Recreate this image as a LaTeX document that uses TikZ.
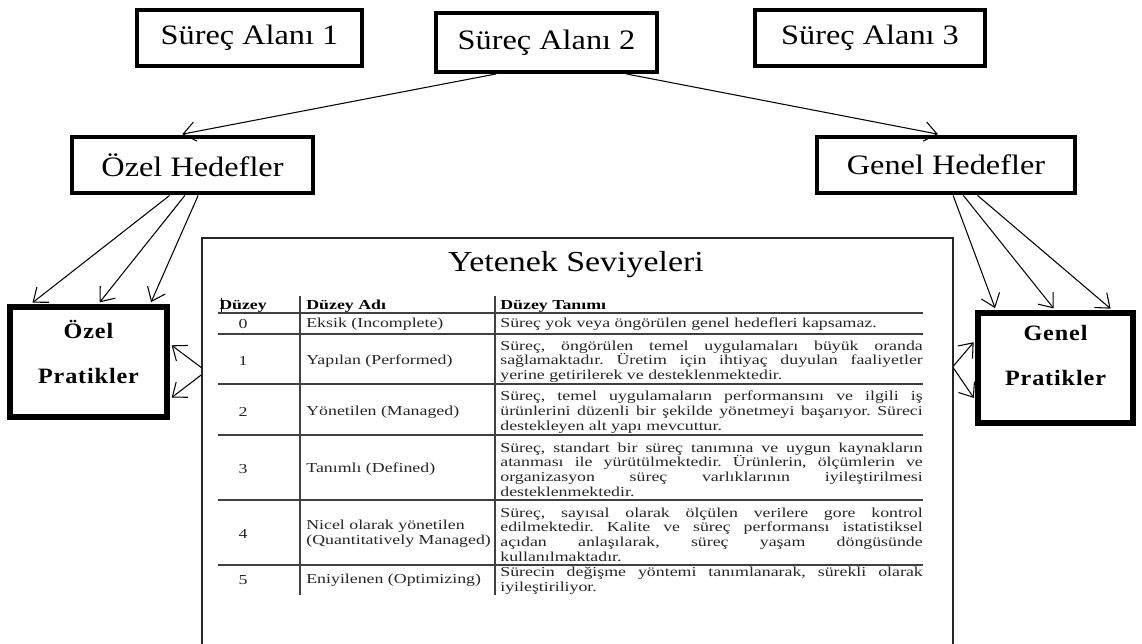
\documentclass[tikz,border=0pt]{standalone}
\usepackage{fontspec}
\setmainfont[FakeStretch=1.15]{Liberation Serif}
\newfontfamily\tabfont[FakeStretch=1.3]{Liberation Serif}
\newfontfamily\titlefont[FakeStretch=1.17]{Liberation Serif}
\newfontfamily\pratfont[FakeStretch=1.1,LetterSpace=4]{Liberation Serif}
\usetikzlibrary{arrows.meta,calc}
\frenchspacing
\begin{document}
\begin{tikzpicture}[x=0.02cm,y=-0.02cm,
  topbox/.style={draw, line width=2.2pt, inner sep=0pt, font=\fontsize{16}{19}\selectfont},
  hedbox/.style={draw, line width=2.8pt, inner sep=0pt, font=\fontsize{16}{19}\selectfont},
  pratbox/.style={draw, line width=3.4pt, inner sep=0pt},
  prattext/.style={align=center, inner sep=0pt, font=\pratfont\bfseries\fontsize{12.5}{26}\selectfont},
  arr/.style={-{Straight Barb[length=7pt,width=11pt]}, line width=0.6pt, shorten >=1.2pt},
  tblbox/.style={draw=black!85, line width=0.9pt, inner sep=0pt},
  tblrule/.style={line width=0.6pt, draw=black!75},
  tx/.style={inner sep=0pt, text=black!85, font=\tabfont\fontsize{7.8}{8.4}\selectfont},
  txb/.style={inner sep=0pt, text=black, font=\tabfont\bfseries\fontsize{7.8}{8.4}\selectfont},
  nm/.style={tx, anchor=west, align=left},
  desc/.style={tx, text width=8.45cm, align=justify, anchor=west}]
\useasboundingbox (0,0) rectangle (1142,643);
\fill[white] (0,0) rectangle (1142,643);
\clip (0,0) rectangle (1142,643);

% top boxes
\node[topbox, minimum width=4.5cm, minimum height=1.12cm] (sa1) at (249.5,38) {Süreç Alanı 1};
\node[topbox, minimum width=4.42cm, minimum height=1.18cm] (sa2) at (546.5,42.5) {Süreç Alanı 2};
\node[topbox, minimum width=4.6cm, minimum height=1.12cm] (sa3) at (870,38) {Süreç Alanı 3};

% goals
\node[hedbox, minimum width=4.82cm, minimum height=1.12cm] (oh) at (192.5,165) {Özel Hedefler};
\node[hedbox, minimum width=5.16cm, minimum height=1.12cm] (gh) at (946,165) {Genel Hedefler};

% practices
\node[pratbox, minimum width=3.14cm, minimum height=2.2cm] (op) at (88.5,362) {};
\node[prattext] (opt) at ([yshift=5.7pt]op.center) {Özel\\Pratikler};
\node[pratbox, minimum width=3.1cm, minimum height=2.2cm] (gp) at (1055.5,368) {};
\node[prattext] (gpt) at ([yshift=7.1pt]gp.center) {Genel\\Pratikler};

% table frame
\node[tblbox, minimum width=15.02cm, minimum height=9.24cm] (tbl) at (577.5,469) {};
\node[inner sep=0pt, anchor=base, font=\titlefont\fontsize{16.5}{19}\selectfont] (title) at (576,271) {Yetenek Seviyeleri};

% table rules
\draw[line width=0.4pt] (221,298) -- (221,312);
\foreach \yy in {313,334,384,435,500,565} {\draw[tblrule] (218,\yy) -- (923,\yy);}
\draw[tblrule] (300,296) -- (300,595);
\draw[tblrule] (495,296) -- (495,595);

% header
\node[txb, anchor=base] (h1) at (243,309) {Düzey};
\node[txb, anchor=base west] (h2) at (306,309) {Düzey Adı};
\node[txb, anchor=base west] (h3) at (500,309) {Düzey Tanımı};

% rows
\node[tx] (n0) at (243,324) {0};
\node[nm] (a0) at (306,324) {Eksik (Incomplete)};
\node[desc] (d0) at (500,324) {Süreç yok veya öngörülen genel hedefleri kapsamaz.};

\node[tx] (n1) at (243,361) {1};
\node[nm] (a1) at (306,361) {Yapılan (Performed)};
\node[desc] (d1) at (500,361.5) {Süreç, öngörülen temel uygulamaları büyük oranda\linebreak sağlamaktadır. Üretim için ihtiyaç duyulan faaliyetler\linebreak yerine getirilerek ve desteklenmektedir.};

\node[tx] (n2) at (243,412) {2};
\node[nm] (a2) at (306,412) {Yönetilen (Managed)};
\node[desc] (d2) at (500,412) {Süreç, temel uygulamaların performansını ve ilgili iş\linebreak ürünlerini düzenli bir şekilde yönetmeyi başarıyor. Süreci\linebreak destekleyen alt yapı mevcuttur.};

\node[tx] (n3) at (243,469) {3};
\node[nm] (a3) at (306,469) {Tanımlı (Defined)};
\node[desc] (d3) at (500,469.5) {Süreç, standart bir süreç tanımına ve uygun kaynakların\linebreak atanması ile yürütülmektedir. Ürünlerin, ölçümlerin ve\linebreak organizasyon süreç varlıklarının iyileştirilmesi\linebreak desteklenmektedir.};

\node[tx] (n4) at (243,534) {4};
\node[nm] (a4) at (306,534) {Nicel olarak yönetilen\\(Quantitatively Managed)};
\node[desc] (d4) at (500,534.5) {Süreç, sayısal olarak ölçülen verilere gore kontrol\linebreak edilmektedir. Kalite ve süreç performansı istatistiksel\linebreak açıdan anlaşılarak, süreç yaşam döngüsünde\linebreak kullanılmaktadır.};

\node[tx] (n5) at (243,580) {5};
\node[nm] (a5) at (306,580) {Eniyilenen (Optimizing)};
\node[desc] (d5) at (500,581) {Sürecin değişme yöntemi tanımlanarak, sürekli olarak\linebreak iyileştiriliyor.};

% connectors
\draw[arr] ($(sa2.south west)!0.276!(sa2.south east)$) -- ($(oh.north west)!0.45!(oh.north east)$);
\draw[arr] ($(sa2.south west)!0.855!(sa2.south east)$) -- ($(gh.north west)!0.477!(gh.north east)$);

\draw[arr] ($(oh.south west)!0.407!(oh.south east)$) -- ($(op.north west)!0.146!(op.north east)$);
\draw[arr] ($(oh.south west)!0.469!(oh.south east)$) -- ($(op.north west)!0.56!(op.north east)$);
\draw[arr] ($(oh.south west)!0.523!(oh.south east)$) -- ($(op.north west)!0.879!(op.north east)$);

\draw[arr] ($(gh.south west)!0.527!(gh.south east)$) -- ($(gp.north west)!0.129!(gp.north east)$);
\draw[arr] ($(gh.south west)!0.566!(gh.south east)$) -- ($(gp.north west)!0.497!(gp.north east)$);
\draw[arr] ($(gh.south west)!0.62!(gh.south east)$) -- ($(gp.north west)!0.852!(gp.north east)$);

\draw[arr] ($(tbl.north west)!0.281!(tbl.south west)$) -- ($(op.north east)!0.345!(op.south east)$);
\draw[arr] ($(tbl.north west)!0.297!(tbl.south west)$) -- ($(op.north east)!0.818!(op.south east)$);
\draw[arr] ($(tbl.north east)!0.277!(tbl.south east)$) -- ($(gp.north west)!0.264!(gp.south west)$);
\draw[arr] ($(tbl.north east)!0.283!(tbl.south east)$) -- ($(gp.north west)!0.773!(gp.south west)$);
\end{tikzpicture}
\end{document}
